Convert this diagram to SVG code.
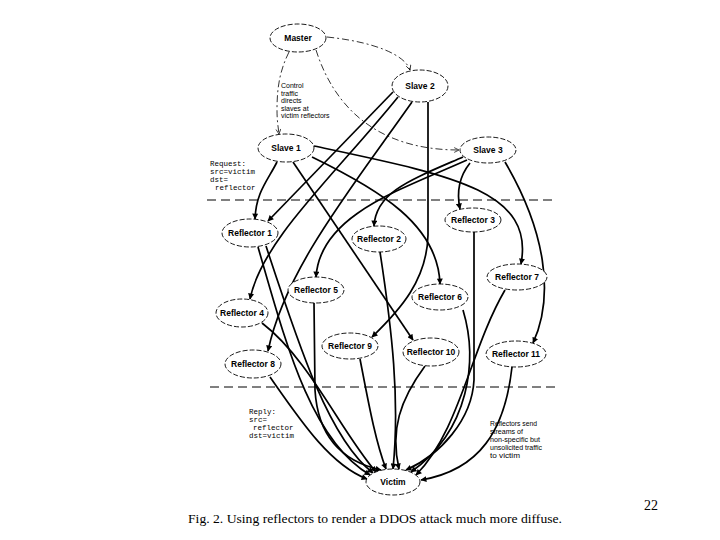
<svg xmlns="http://www.w3.org/2000/svg" width="720" height="540" viewBox="0 0 720 540">
<style>
.nd ellipse{fill:#fff;stroke:#000;stroke-width:0.9;stroke-dasharray:5,2}
.nd text{font-family:"Liberation Sans",Arial,sans-serif;font-size:8.5px;font-weight:bold;text-anchor:middle;fill:#000}
.e{fill:none;stroke:#000;stroke-width:1.7;marker-end:url(#ah)}
.c{fill:none;stroke:#000;stroke-width:0.8;stroke-dasharray:7,3,2,3;marker-end:url(#oh)}
.div{stroke:#000;stroke-width:1;stroke-dasharray:9,5}
.ann{font-family:"Liberation Sans",Arial,sans-serif;font-size:7px;fill:#000}
.mono{font-family:"Liberation Mono","Courier New",monospace;font-size:7.5px;fill:#000}
.cap{font-family:"Liberation Serif","Times New Roman",serif;fill:#000}
</style>
<defs>
<marker id="ah" viewBox="0 0 10 10" refX="9" refY="5" markerWidth="7" markerHeight="6" markerUnits="userSpaceOnUse" orient="auto">
<path d="M0,0 L10,5 L0,10 z" fill="#000"/>
</marker>
<marker id="oh" viewBox="0 0 10 10" refX="9" refY="5" markerWidth="6" markerHeight="6" markerUnits="userSpaceOnUse" orient="auto">
<path d="M1,1 L9,5 L1,9" fill="none" stroke="#000" stroke-width="1.2"/>
</marker>
</defs>
<rect width="720" height="540" fill="#fff"/>
<line class="div" x1="207" y1="200" x2="552" y2="200"/>
<line class="div" x1="210" y1="387" x2="555" y2="387"/>
<g id="connectors">
<path class="c" d="M327,37 C375,42 405,55 410,70"/>
<path class="c" d="M289,52 C279,72 277,90 277,110 C277,120 278,126 279,134"/>
<path class="c" d="M316,50 C335,110 380,150 459,150"/>
<path class="e" d="M277,162 C268,180 256,192 255,219"/>
<path class="e" d="M393,92 L268,221"/>
<path class="e" d="M398,97 C335,175 262,240 250,299"/>
<path class="e" d="M412,102 C350,190 285,270 268,351"/>
<path class="e" d="M428,102 L428,235 C427,280 400,310 372,337"/>
<path class="e" d="M293,162 L413,340"/>
<path class="e" d="M312,157 C380,190 438,225 440,284"/>
<path class="e" d="M314,146 C450,175 535,190 521,264"/>
<path class="e" d="M463,157 C410,180 376,192 374,226"/>
<path class="e" d="M467,160 C400,190 320,215 316,277"/>
<path class="e" d="M470,163 C458,178 457,195 460,209"/>
<path class="e" d="M505,162 C545,230 555,295 533,343"/>
<path class="e" d="M270,377 C300,420 330,465 367,479"/>
<path class="e" d="M258,247 C285,340 310,440 370,475"/>
<path class="e" d="M266,246 C300,350 330,440 373,473"/>
<path class="e" d="M262,323 C310,360 340,430 376,472"/>
<path class="e" d="M314,303 L315,390 C318,440 345,462 381,470"/>
<path class="e" d="M360,359 C368,400 375,440 386,469"/>
<path class="e" d="M380,252 C392,330 400,400 393,469"/>
<path class="e" d="M425,366 C400,400 390,430 399,469"/>
<path class="e" d="M474,232 L474,380 C472,420 440,455 406,470"/>
<path class="e" d="M463,310 C478,360 470,430 411,472"/>
<path class="e" d="M505,290 C470,350 460,430 416,475"/>
<path class="e" d="M512,367 C505,430 480,470 421,480"/>
</g>
<g id="master" class="nd"><ellipse cx="298" cy="38" rx="28" ry="14"/><text x="298" y="41">Master</text></g>
<g id="slave2" class="nd"><ellipse cx="420" cy="86" rx="28" ry="16"/><text x="420" y="89">Slave 2</text></g>
<g id="slave1" class="nd"><ellipse cx="286" cy="148" rx="28" ry="14"/><text x="286" y="151">Slave 1</text></g>
<g id="slave3" class="nd"><ellipse cx="488" cy="150" rx="28" ry="13"/><text x="488" y="153">Slave 3</text></g>
<g id="reflector1" class="nd"><ellipse cx="250" cy="233" rx="28" ry="14"/><text x="250" y="236">Reflector 1</text></g>
<g id="reflector2" class="nd"><ellipse cx="379" cy="239" rx="27" ry="13"/><text x="379" y="242">Reflector 2</text></g>
<g id="reflector3" class="nd"><ellipse cx="473" cy="220" rx="28" ry="12"/><text x="473" y="223">Reflector 3</text></g>
<g id="reflector4" class="nd"><ellipse cx="242" cy="313" rx="26" ry="14"/><text x="242" y="316">Reflector 4</text></g>
<g id="reflector5" class="nd"><ellipse cx="316" cy="290" rx="28" ry="13"/><text x="316" y="293">Reflector 5</text></g>
<g id="reflector6" class="nd"><ellipse cx="440" cy="297" rx="28" ry="13"/><text x="440" y="300">Reflector 6</text></g>
<g id="reflector7" class="nd"><ellipse cx="517" cy="277" rx="30" ry="13"/><text x="517" y="280">Reflector 7</text></g>
<g id="reflector8" class="nd"><ellipse cx="253" cy="364" rx="28" ry="14"/><text x="253" y="367">Reflector 8</text></g>
<g id="reflector9" class="nd"><ellipse cx="350" cy="346" rx="28" ry="13"/><text x="350" y="349">Reflector 9</text></g>
<g id="reflector10" class="nd"><ellipse cx="431" cy="352" rx="28" ry="14"/><text x="431" y="355">Reflector 10</text></g>
<g id="reflector11" class="nd"><ellipse cx="516" cy="354" rx="30" ry="13"/><text x="516" y="357">Reflector 11</text></g>
<g id="victim" class="nd"><ellipse cx="393" cy="482" rx="27" ry="13"/><text x="393" y="485">Victim</text></g>
<g id="annotations">
<text class="ann" x="281" y="88">Control</text>
<text class="ann" x="281" y="95.5">traffic</text>
<text class="ann" x="281" y="103">directs</text>
<text class="ann" x="281" y="110.5">slaves at</text>
<text class="ann" x="281" y="118">victim  reflectors</text>
<text class="mono" x="210" y="166">Request:</text>
<text class="mono" x="210" y="174">src=victim</text>
<text class="mono" x="210" y="182">dst=</text>
<text class="mono" x="215" y="190">reflector</text>
<text class="mono" x="249" y="414">Reply:</text>
<text class="mono" x="249" y="422">src=</text>
<text class="mono" x="253" y="430">reflector</text>
<text class="mono" x="249" y="438">dst=victim</text>
<text class="ann" x="490" y="426" textLength="47" lengthAdjust="spacingAndGlyphs">Reflectors send</text>
<text class="ann" x="490" y="434" textLength="33" lengthAdjust="spacingAndGlyphs">streams of</text>
<text class="ann" x="490" y="442" textLength="50" lengthAdjust="spacingAndGlyphs">non-specific but</text>
<text class="ann" x="490" y="450" textLength="52" lengthAdjust="spacingAndGlyphs">unsolicited traffic</text>
<text class="ann" x="490" y="458" textLength="30" lengthAdjust="spacingAndGlyphs">to victim</text>
</g>
<text class="cap" x="188" y="523" font-size="13" textLength="374" lengthAdjust="spacingAndGlyphs">Fig. 2.  Using reflectors to render a DDOS attack much more diffuse.</text>
<text class="cap" x="644" y="510" font-size="14">22</text>
</svg>
